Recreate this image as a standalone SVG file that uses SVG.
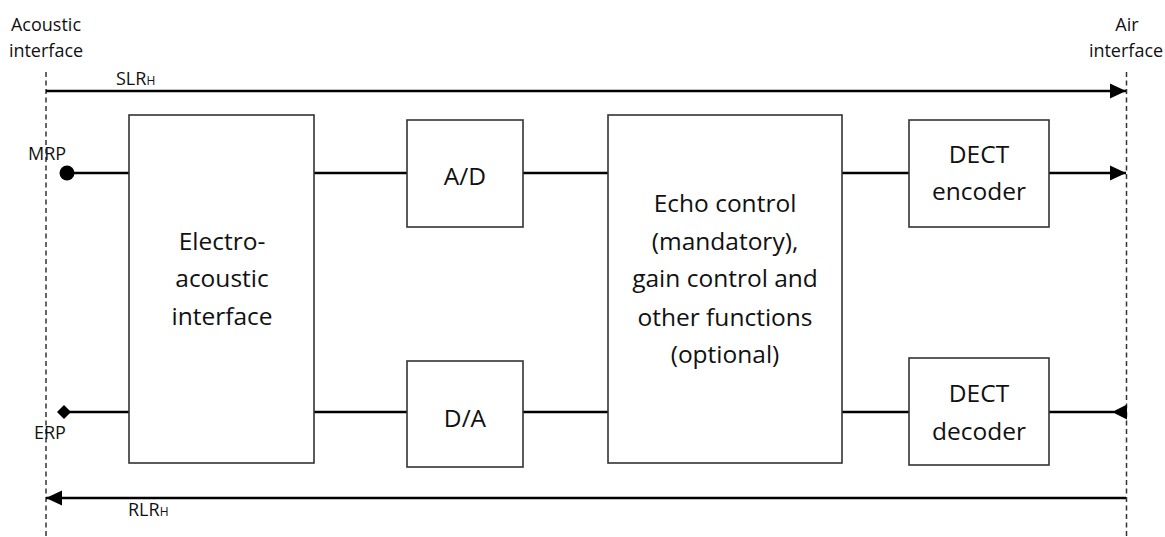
<svg xmlns="http://www.w3.org/2000/svg" width="1165" height="537" viewBox="0 0 1165 537">
<style>
  .box{fill:#fff;stroke:#333;stroke-width:1.6}
  .big{font-family:"Open Sans","Liberation Sans",sans-serif;font-size:24.5px;fill:#111;text-anchor:middle}
  .sm{font-family:"Open Sans","Liberation Sans",sans-serif;font-size:18px;fill:#111}
  .mid{text-anchor:middle}
  .sub{font-size:12px}
  .wire{stroke:#000;stroke-width:2.6;fill:none}
  .dash{stroke:#333;stroke-width:1.5;stroke-dasharray:5 3.5;fill:none}
</style>
<defs>
  <marker id="arr" markerUnits="userSpaceOnUse" markerWidth="18" markerHeight="16" viewBox="0 0 16 16" refX="16" refY="8" orient="auto">
    <path d="M0,0.5 L16,8 L0,15.5 Z" fill="#000"/>
  </marker>
</defs>
<rect width="1165" height="537" fill="#fff"/>
<g id="interfaces">
  <line class="dash" x1="46" y1="72" x2="46" y2="537"/>
  <line class="dash" x1="1126.5" y1="72" x2="1126.5" y2="537"/>
  <text class="sm mid" x="46" y="31">Acoustic</text>
  <text class="sm mid" x="46" y="57">interface</text>
  <text class="sm mid" x="1127" y="31">Air</text>
  <text class="sm mid" x="1126" y="57">interface</text>
</g>
<g id="connectors">
  <line class="wire" x1="46" y1="91" x2="1126" y2="91" marker-end="url(#arr)"/>
  <line class="wire" x1="1126" y1="498" x2="46" y2="498" marker-end="url(#arr)"/>
  <line class="wire" x1="67" y1="173" x2="129" y2="173"/>
  <line class="wire" x1="314" y1="173" x2="407" y2="173"/>
  <line class="wire" x1="523" y1="173" x2="608" y2="173"/>
  <line class="wire" x1="842" y1="173" x2="909" y2="173"/>
  <line class="wire" x1="1049" y1="173" x2="1126" y2="173" marker-end="url(#arr)"/>
  <line class="wire" x1="64" y1="412" x2="129" y2="412"/>
  <line class="wire" x1="314" y1="412" x2="407" y2="412"/>
  <line class="wire" x1="523" y1="412" x2="608" y2="412"/>
  <line class="wire" x1="842" y1="412" x2="909" y2="412"/>
  <line class="wire" x1="1049" y1="412" x2="1114" y2="412"/>
  <path d="M1127,404.5 L1112,412 L1127,419.5 Z" fill="#000"/>
  <circle cx="67" cy="173" r="7.5" fill="#000"/>
  <path d="M64,405 L71,412 L64,419 L57,412 Z" fill="#000"/>
</g>
<g id="labels">
  <text class="sm" x="116" y="85">SLR<tspan class="sub">H</tspan></text>
  <text class="sm" x="128" y="516">RLR<tspan class="sub">H</tspan></text>
  <text class="sm" x="28" y="160">MRP</text>
  <text class="sm" x="34" y="439">ERP</text>
</g>
<g id="electro">
  <rect class="box" x="129" y="115" width="185" height="348"/>
  <text class="big" x="222" y="250">Electro-</text>
  <text class="big" x="222" y="287">acoustic</text>
  <text class="big" x="222" y="325">interface</text>
</g>
<g id="ad">
  <rect class="box" x="407" y="120" width="116" height="107"/>
  <text class="big" x="465" y="185">A/D</text>
</g>
<g id="da">
  <rect class="box" x="407" y="361" width="116" height="106"/>
  <text class="big" x="465" y="427">D/A</text>
</g>
<g id="echo">
  <rect class="box" x="608" y="115" width="234" height="348"/>
  <text class="big" x="725" y="212">Echo control</text>
  <text class="big" x="725" y="250">(mandatory),</text>
  <text class="big" x="725" y="287">gain control and</text>
  <text class="big" x="725" y="326">other functions</text>
  <text class="big" x="725" y="363">(optional)</text>
</g>
<g id="encoder">
  <rect class="box" x="909" y="120" width="140" height="107"/>
  <text class="big" x="979" y="163">DECT</text>
  <text class="big" x="979" y="200">encoder</text>
</g>
<g id="decoder">
  <rect class="box" x="909" y="358" width="140" height="107"/>
  <text class="big" x="979" y="402">DECT</text>
  <text class="big" x="979" y="440">decoder</text>
</g>
</svg>
